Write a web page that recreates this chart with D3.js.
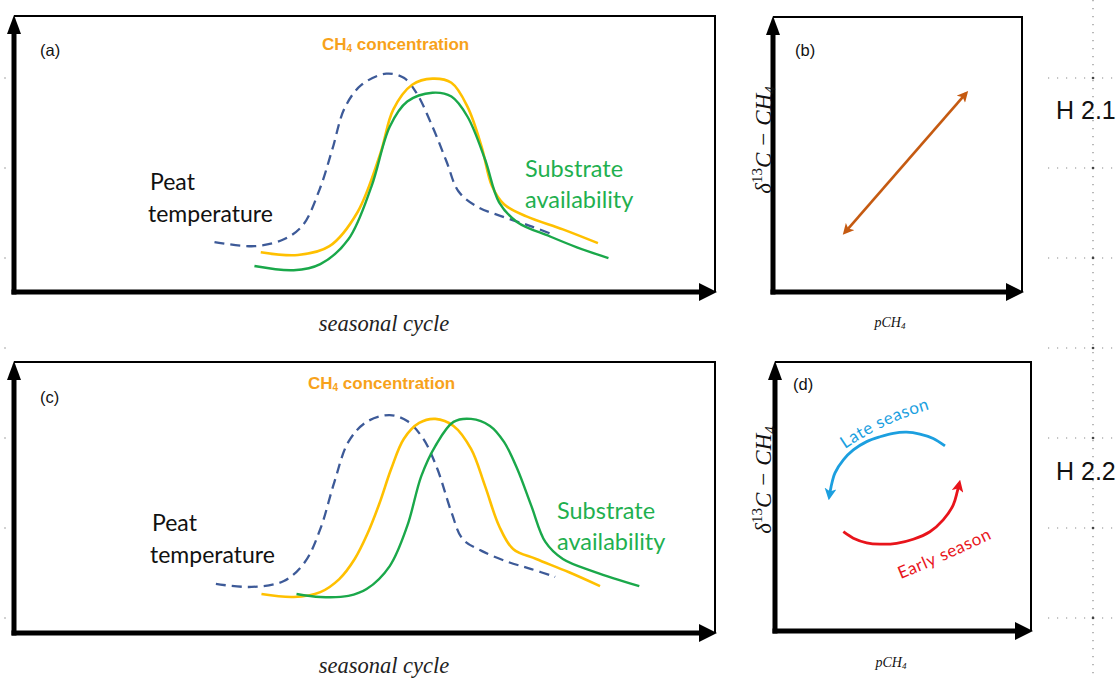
<!DOCTYPE html>
<html><head><meta charset="utf-8">
<script src="https://cdn.jsdelivr.net/npm/d3@7"></script>
<style>body{margin:0;background:#fff}svg{display:block}</style>
</head><body>
<svg id="chart" width="1119" height="678"></svg>
<script>
// ---------- DATA (relative units 0-100 on each panel) ----------
// Panel (a): H 2.1
const peatTempA = [[28.6,18.1],[34.3,16.6],[38.5,19.1],[41.2,24.2],[43.6,37.2],[45.4,51.6],[47.2,66.8],[49.6,75.1],[53.1,79.1],[55.6,77.6],[57.4,72.2],[59.7,59.9],[61.7,47.3],[63.4,36.5],[66.0,31.0],[69.9,27.1],[73.8,23.8],[77.1,20.6]];
const ch4ConcA = [[35.2,14.4],[40.5,13.4],[45.0,16.6],[49.0,28.9],[52.3,50.5],[54.1,66.1],[56.8,75.1],[59.7,77.3],[62.4,75.8],[64.7,67.1],[66.7,52.7],[68.2,38.3],[69.9,31.8],[73.1,27.4],[78.3,22.7],[83.3,17.7]];
const substrateA = [[34.3,9.4],[39.9,7.9],[43.7,10.1],[47.7,19.1],[51.0,38.3],[53.6,59.9],[56.1,69.0],[59.7,72.2],[62.4,70.8],[64.7,63.5],[67.2,48.0],[69.2,32.5],[71.8,25.3],[76.4,20.2],[80.3,16.2],[84.8,12.3]];
// Panel (c): H 2.2
const peatTempC = [[28.8,18.1],[33.9,17.0],[38.5,19.2],[41.5,26.2],[43.7,38.4],[45.7,55.7],[47.7,70.5],[50.3,77.9],[53.6,80.4],[56.1,78.2],[58.4,71.6],[60.4,60.5],[62.4,44.6],[64.0,34.7],[66.7,30.3],[70.5,26.2],[73.8,23.6],[77.2,20.7]];
const ch4ConcC = [[35.3,14.4],[39.9,13.3],[43.7,15.1],[46.4,19.9],[48.6,27.3],[50.4,36.5],[52.1,47.6],[53.8,60.5],[55.6,71.6],[57.8,77.5],[60.1,79.0],[62.7,76.4],[65.2,67.9],[67.2,54.2],[69.2,39.5],[71.2,31.0],[74.5,27.3],[79.1,22.5],[83.6,17.3]];
const substrateC = [[40.3,14.4],[43.7,13.3],[47.7,13.7],[50.3,16.2],[53.6,24.7],[56.1,39.5],[58.1,57.9],[60.1,69.0],[62.7,77.9],[65.2,79.0],[67.9,76.4],[69.9,70.5],[71.8,60.5],[73.8,46.9],[75.8,33.6],[78.3,27.3],[82.9,22.5],[89.2,17.3]];
// Panel (b): isotope vs pCH4 relation (double arrow)
const relationB = [[28.9,21.7],[77.5,72.2]];
// Panel (d): seasonal hysteresis
const earlySeasonD = [[26.7,36.9],[30.6,34.5],[35.8,32.8],[41.0,32.3],[47.5,32.6],[54.0,34.1],[60.5,36.9],[65.7,41.3],[69.6,46.8],[71.2,51.8],[72.0,54.9]];
const lateSeasonD = [[66.4,68.8],[61.8,71.6],[56.6,73.2],[51.4,73.9],[46.2,73.5],[41.0,72.2],[35.8,70.4],[30.6,67.3],[26.7,63.6],[23.4,58.7],[21.9,53.6],[21.2,49.9]];
// Labels
const panelLabels = ["(a)","(b)","(c)","(d)"];
const hypothesisLabels = ["H 2.1","H 2.2"];
const seriesNames = ["Peat", "temperature", "CH", "concentration", "Substrate", "availability"];
const seasonNames = ["Late season", "Early season"];

// ---------- LAYOUT ----------
const svg = d3.select("#chart");
const defs = svg.append("defs");
const C = {
  dash: "#3d5a98", yellow: "#ffc000", green: "#1aa84a", orangeText: "#f7a21b",
  greenText: "#1fb04f", brown: "#c55a11", blue: "#1c9fdf", red: "#e8141b"
};

function marker(id, color, w, h) {
  defs.append("marker").attr("id", id).attr("viewBox", "0 0 10 10")
    .attr("refX", 7).attr("refY", 5).attr("markerUnits", "userSpaceOnUse")
    .attr("markerWidth", w).attr("markerHeight", h).attr("orient", "auto-start-reverse")
    .append("path").attr("d", "M0,0L10,5L0,10L2.5,5Z").attr("fill", color);
}
marker("mBrown", C.brown, 12, 11);
marker("mBlue", C.blue, 12, 12);
marker("mRed", C.red, 12, 12);

function panel(box) {
  const x = d3.scaleLinear().domain([0, 100]).range([box.x0, box.x1]);
  const y = d3.scaleLinear().domain([0, 100]).range([box.y1, box.y0]);
  const g = svg.append("g");
  g.append("path").attr("d", `M${box.x0},${box.y0}H${box.x1}V${box.y1}`)
    .attr("fill", "none").attr("stroke", "#000").attr("stroke-width", 2);
  g.append("line").attr("x1", box.x0).attr("x2", box.x0).attr("y1", box.y1 + 2.5).attr("y2", box.y0 + 10)
    .attr("stroke", "#000").attr("stroke-width", 5);
  g.append("line").attr("x1", box.x0 - 2.5).attr("x2", box.x1 - 10).attr("y1", box.y1).attr("y2", box.y1)
    .attr("stroke", "#000").attr("stroke-width", 5);
  g.append("path").attr("d", `M${box.x0},${box.y0 - 1}L${box.x0 - 7},${box.y0 + 18}L${box.x0 + 7},${box.y0 + 18}Z`).attr("fill", "#000");
  g.append("path").attr("d", `M${box.x1 + 2},${box.y1}L${box.x1 - 16},${box.y1 - 9}L${box.x1 - 16},${box.y1 + 9}Z`).attr("fill", "#000");
  return {x, y, g};
}

const boxes = [
  {x0: 14, x1: 715, y0: 16, y1: 292},
  {x0: 773, x1: 1022, y0: 17, y1: 292},
  {x0: 14, x1: 715, y0: 362, y1: 633},
  {x0: 775, x1: 1031, y0: 362, y1: 631}
];

// background dotted grid (right side + left edge ticks)
const gridYs = d3.range(7).map(i => 78 + i * 90);
const grid = svg.append("g");
grid.append("line").attr("x1", 1093).attr("x2", 1093).attr("y1", 0).attr("y2", 678)
  .attr("stroke", "#8a8a8a").attr("stroke-width", 1.2).attr("stroke-dasharray", "1.2,6.8");
gridYs.forEach(gy => {
  grid.append("line").attr("x1", 1048).attr("x2", 1119).attr("y1", gy).attr("y2", gy)
    .attr("stroke", "#8a8a8a").attr("stroke-width", 1.2).attr("stroke-dasharray", "1.2,7.8");
  grid.append("circle").attr("cx", 1093).attr("cy", gy).attr("r", 1.3).attr("fill", "#444");
  grid.append("circle").attr("cx", 5).attr("cy", gy).attr("r", 0.8).attr("fill", "#999");
});

const line = (p) => d3.line().x(d => p.x(d[0])).y(d => p.y(d[1])).curve(d3.curveCatmullRom.alpha(0.5));

function seasonalPanel(p, peat, ch4, sub) {
  p.g.append("path").attr("d", line(p)(peat)).attr("fill", "none").attr("stroke", C.dash)
    .attr("stroke-width", 2.3).attr("stroke-dasharray", "10,6");
  p.g.append("path").attr("d", line(p)(ch4)).attr("fill", "none").attr("stroke", C.yellow).attr("stroke-width", 2.6);
  p.g.append("path").attr("d", line(p)(sub)).attr("fill", "none").attr("stroke", C.green).attr("stroke-width", 2.4);
}

function yIsoLabel(cx, cy) {
  const t = svg.append("text").attr("transform", `translate(${cx},${cy}) rotate(-90)`)
    .attr("text-anchor", "middle").attr("font-family", "Liberation Serif, serif")
    .attr("font-style", "italic").attr("font-size", 23).attr("fill", "#111");
  t.append("tspan").text("δ");
  t.append("tspan").attr("font-size", 15).attr("dy", -9).attr("font-style", "normal").text("13");
  t.append("tspan").attr("dy", 9).text("C − CH");
  t.append("tspan").attr("font-size", 15).attr("dy", 4).text("4");
}
function xPLabel(cx, by) {
  const t = svg.append("text").attr("x", cx).attr("y", by).attr("text-anchor", "middle")
    .attr("font-family", "Liberation Serif, serif").attr("font-style", "italic").attr("font-size", 14).attr("fill", "#111");
  t.append("tspan").text("pCH");
  t.append("tspan").attr("font-size", 9).attr("dy", 2).text("4");
}
function seasonalText(ch4x, ch4y) {
  const t = svg.append("text").attr("x", ch4x).attr("y", ch4y).attr("font-family", "Liberation Sans, Arial, sans-serif")
    .attr("font-weight", "bold").attr("font-size", 17).attr("fill", C.orangeText);
  t.append("tspan").text(seriesNames[2]);
  t.append("tspan").attr("font-size", 10).attr("dy", 2).text("4");
  t.append("tspan").attr("dy", -2).text(" " + seriesNames[3]);
}
function sideLabels(px, py, sx, sy) {
  const f = "Lato, 'Open Sans', sans-serif";
  svg.append("text").attr("x", px).attr("y", py).attr("font-family", f).attr("font-size", 23).attr("fill", "#111").text(seriesNames[0]);
  svg.append("text").attr("x", px - 2).attr("y", py + 32).attr("font-family", f).attr("font-size", 23).attr("fill", "#111").text(seriesNames[1]);
  svg.append("text").attr("x", sx).attr("y", sy).attr("font-family", f).attr("font-size", 23.5).attr("fill", C.greenText).text(seriesNames[4]);
  svg.append("text").attr("x", sx).attr("y", sy + 31).attr("font-family", f).attr("font-size", 23.5).attr("fill", C.greenText).text(seriesNames[5]);
}
function xSeasonLabel(cx, by) {
  svg.append("text").attr("x", cx).attr("y", by).attr("text-anchor", "middle")
    .attr("font-family", "Liberation Serif, serif").attr("font-style", "italic").attr("font-size", 22.5)
    .attr("fill", "#222").text("seasonal cycle");
}
function panelLabel(i, x, y) {
  svg.append("text").attr("x", x).attr("y", y).attr("font-family", "Liberation Sans, Arial, sans-serif")
    .attr("font-size", 16.5).attr("fill", "#111").text(panelLabels[i]);
}

// Panel (a)
const pa = panel(boxes[0]);
seasonalPanel(pa, peatTempA, ch4ConcA, substrateA);
panelLabel(0, 40, 56);
seasonalText(322, 50);
sideLabels(150, 190, 525, 177);
xSeasonLabel(384, 331);

// Panel (b)
const pb = panel(boxes[1]);
pb.g.append("path").attr("d", d3.line().x(d => pb.x(d[0])).y(d => pb.y(d[1]))(relationB))
  .attr("stroke", C.brown).attr("stroke-width", 2.6).attr("fill", "none")
  .attr("marker-start", "url(#mBrown)").attr("marker-end", "url(#mBrown)");
panelLabel(1, 795, 56);
yIsoLabel(771, 140);
xPLabel(890, 327);

// Panel (c)
const pc = panel(boxes[2]);
seasonalPanel(pc, peatTempC, ch4ConcC, substrateC);
panelLabel(2, 40, 403);
seasonalText(308, 389);
sideLabels(152, 531, 557, 519);
xSeasonLabel(384, 673);

// Panel (d)
const pd = panel(boxes[3]);
const arc = d3.line().x(d => pd.x(d[0])).y(d => pd.y(d[1])).curve(d3.curveCatmullRom.alpha(0.5));
pd.g.append("path").attr("d", arc(lateSeasonD)).attr("stroke", C.blue).attr("stroke-width", 2.8)
  .attr("fill", "none").attr("marker-end", "url(#mBlue)");
pd.g.append("path").attr("d", arc(earlySeasonD)).attr("stroke", C.red).attr("stroke-width", 2.8)
  .attr("fill", "none").attr("marker-end", "url(#mRed)");
defs.append("path").attr("id", "latePath").attr("d", "M845,449 Q886,421 937,407");
defs.append("path").attr("id", "earlyPath").attr("d", "M901,579 Q945,561 995,537");
svg.append("text").attr("font-family", "Lato, 'Open Sans', sans-serif").attr("font-size", 17).attr("fill", C.blue)
  .append("textPath").attr("href", "#latePath").attr("textLength", 94).text(seasonNames[0]);
svg.append("text").attr("font-family", "Lato, 'Open Sans', sans-serif").attr("font-size", 17).attr("fill", C.red)
  .append("textPath").attr("href", "#earlyPath").attr("textLength", 100).text(seasonNames[1]);
panelLabel(3, 793, 390);
yIsoLabel(771, 480);
xPLabel(891, 667);

// Hypothesis labels
svg.append("text").attr("x", 1056).attr("y", 119).attr("font-family", "Liberation Sans, Arial, sans-serif")
  .attr("font-size", 25).attr("fill", "#111").text(hypothesisLabels[0]);
svg.append("text").attr("x", 1056).attr("y", 480).attr("font-family", "Liberation Sans, Arial, sans-serif")
  .attr("font-size", 25).attr("fill", "#111").text(hypothesisLabels[1]);
</script>
</body></html>
